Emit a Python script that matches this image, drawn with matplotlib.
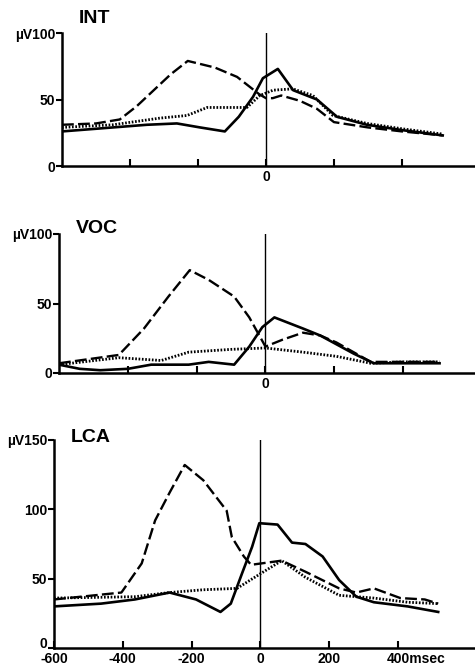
import matplotlib.pyplot as plt
from matplotlib.transforms import ScaledTranslation

plt.rcParams["font.family"] = ["Liberation Sans", "DejaVu Sans"]
plt.rcParams["font.weight"] = "bold"

# INT panel
int_dash_t = [-600, -500, -430, -380, -330, -280, -230, -150, -85, -50, -20, 0, 20, 45, 100, 150, 200, 250, 300, 400, 520]
int_dash_v = [31, 32, 35, 45, 57, 69, 79, 74, 67, 60, 54, 51, 51, 53, 49, 43, 33, 31, 29, 26, 23]
int_solid_t = [-600, -450, -350, -262, -194, -121, -80, -38, -9, 35, 80, 150, 209, 297, 400, 520]
int_solid_v = [26, 29, 31, 32, 29, 26, 37, 52, 66, 73, 57, 50, 37, 31, 27, 23]
int_dot_t = [-600, -450, -312, -232, -173, -56, -18, 21, 79, 138, 197, 297, 400, 520]
int_dot_v = [29, 31, 36, 38, 44, 44, 53, 57, 58, 53, 38, 32, 28, 24]

# VOC panel
voc_dash_t = [-600, -426, -353, -282, -220, -165, -91, -47, 0, 50, 109, 159, 206, 306, 400, 506]
voc_dash_v = [7, 13, 32, 55, 74, 67, 55, 40, 19, 24, 29, 27, 22, 8, 8, 8]
voc_solid_t = [-600, -540, -480, -400, -332, -223, -165, -91, -47, -9, 26, 109, 159, 256, 315, 400, 506]
voc_solid_v = [6, 3, 2, 3, 6, 6, 8, 6, 19, 33, 40, 32, 27, 14, 7, 7, 7]
voc_dot_t = [-600, -426, -303, -223, -100, 0, 109, 206, 306, 400, 506]
voc_dot_v = [6, 11, 9, 15, 17, 18, 15, 12, 7, 8, 8]

# LCA panel
lca_dash_t = [-600, -404, -345, -306, -264, -220, -166, -98, -83, -48, -27, 3, 62, 131, 229, 279, 330, 407, 478, 517]
lca_dash_v = [35, 40, 61, 92, 112, 132, 121, 99, 80, 66, 60, 61, 63, 55, 43, 40, 43, 36, 35, 32]
lca_solid_t = [-600, -463, -365, -264, -187, -116, -86, -53, -24, -3, 50, 92, 131, 181, 229, 279, 330, 428, 517]
lca_solid_v = [30, 32, 35, 40, 35, 26, 32, 54, 73, 90, 89, 76, 75, 66, 49, 37, 33, 30, 26]
lca_dot_t = [-600, -365, -264, -166, -68, 3, 62, 131, 229, 330, 428, 517]
lca_dot_v = [36, 37, 40, 42, 43, 54, 63, 51, 38, 36, 33, 32]

panels = [
    ("INT", [62, 166, 33], 615, 100, [0, 50, 100], ["0", "50", "µV100"],
     (int_dash_t, int_dash_v), (int_solid_t, int_solid_v), (int_dot_t, int_dot_v), 23),
    ("VOC", [59, 373, 234], 609, 100, [0, 50, 100], ["0", "50", "µV100"],
     (voc_dash_t, voc_dash_v), (voc_solid_t, voc_solid_v), (voc_dot_t, voc_dot_v), 233),
    ("LCA", [54, 648, 440], 624, 150, [0, 50, 100, 150], ["0", "50", "100", "µV150"],
     (lca_dash_t, lca_dash_v), (lca_solid_t, lca_solid_v), (lca_dot_t, lca_dot_v), 442),
]

W, H = 475, 666
fig = plt.figure(figsize=(W / 100, H / 100), dpi=100)

for i, (name, (left, bottom, top), xmax, ymax, yt, ytl, dash, solid, dot, title_y) in enumerate(panels):
    ax = fig.add_axes([left / W, 1 - bottom / H, (W - left) / W, (bottom - top) / H])
    ax.plot(*dash, color="black", lw=1.7, ls=(0, (5, 1.8)))
    ax.plot(*solid, color="black", lw=1.9)
    ax.plot(*dot, color="black", lw=2.0, ls=(0, (0.6, 0.6)))
    ax.axvline(0, color="black", lw=1.0)
    ax.set_xlim(-600, xmax)
    ax.set_ylim(0, ymax)
    for s in ["top", "right"]:
        ax.spines[s].set_visible(False)
    for s in ["left", "bottom"]:
        ax.spines[s].set_linewidth(1.8)
    ax.set_yticks(yt)
    ylabels = ax.set_yticklabels(ytl, fontsize=10, fontweight="bold")
    ax.tick_params(axis="y", direction="out", length=4, width=1.5, pad=1)
    ax.set_xticks([-400, -200, 0, 200, 400])
    ax.tick_params(axis="x", direction="in", length=5, width=1.5, pad=3)
    if i < 2:
        ax.set_xticklabels(["", "", "0", "", ""], fontsize=10, fontweight="bold")
    else:
        ylabels[0].set_transform(ylabels[0].get_transform()
                                 + ScaledTranslation(0, 5 / 100, fig.dpi_scale_trans))
        ax.set_xticks([-600, -400, -200, 0, 200, 400])
        labels = ax.set_xticklabels(["-600", "-400", "-200", "0", "200", "400msec"],
                                    fontsize=10, fontweight="bold")
        labels[-1].set_horizontalalignment("left")
        labels[-1].set_transform(labels[-1].get_transform()
                                 + ScaledTranslation(-11 / 100, 0, fig.dpi_scale_trans))
    ax.set_facecolor("none")
    fig.text((left + 17) / W, 1 - title_y / H, name, fontsize=14,
             fontweight="bold", va="baseline", ha="left")

fig.savefig("out.png", dpi=100, facecolor="white")
